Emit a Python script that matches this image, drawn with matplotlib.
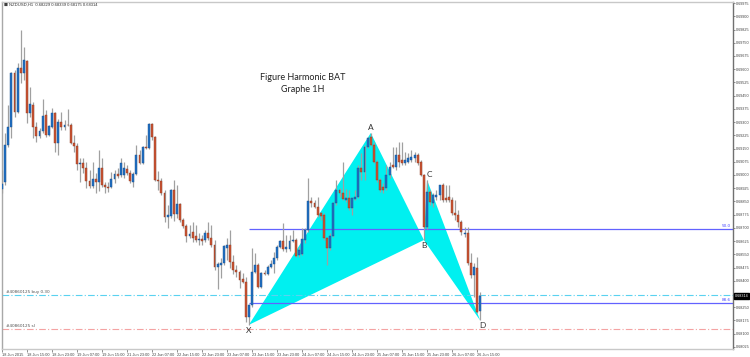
import numpy as np
import matplotlib
matplotlib.use("Agg")
import matplotlib.pyplot as plt
import matplotlib.transforms as mtransforms

# NZDUSD H1 candles, 18-26 Jun 2015
opens = [0.68921, 0.68960, 0.69170, 0.69272, 0.69578, 0.69357, 0.69607, 0.69578, 0.69646, 0.69351,
         0.69397, 0.69272, 0.69221, 0.69249, 0.69340, 0.69227, 0.69272, 0.69351, 0.69181, 0.69300,
         0.69272, 0.69283, 0.69283, 0.69181, 0.69164, 0.69062, 0.69068, 0.69040, 0.68966, 0.68938,
         0.68977, 0.68960, 0.69040, 0.68943, 0.68932, 0.68932, 0.68977, 0.69006, 0.69000, 0.69000,
         0.69034, 0.69011, 0.68960, 0.69006, 0.69113, 0.69068, 0.69159, 0.69153, 0.69289, 0.69215,
         0.68972, 0.68966, 0.68898, 0.68762, 0.68768, 0.68915, 0.68779, 0.68836, 0.68745, 0.68711,
         0.68654, 0.68677, 0.68654, 0.68631, 0.68637, 0.68631, 0.68671, 0.68643, 0.68603, 0.68478,
         0.68490, 0.68501, 0.68586, 0.68603, 0.68507, 0.68461, 0.68450, 0.68410, 0.68393, 0.68195,
         0.68263, 0.68450, 0.68490, 0.68365, 0.68444, 0.68439, 0.68478, 0.68495, 0.68529, 0.68592,
         0.68626, 0.68580, 0.68580, 0.68626, 0.68631, 0.68546, 0.68552, 0.68631, 0.68688, 0.68853,
         0.68841, 0.68819, 0.68785, 0.68773, 0.68643, 0.68586, 0.68654, 0.68841, 0.68915, 0.68898,
         0.68858, 0.68870, 0.68813, 0.68864, 0.68875, 0.69040, 0.69017, 0.69159, 0.69215, 0.69170,
         0.69074, 0.68972, 0.68932, 0.68926, 0.69000, 0.69057, 0.69045, 0.69113, 0.69085, 0.69068,
         0.69074, 0.69085, 0.69096, 0.69113, 0.69074, 0.69000, 0.68705, 0.68904, 0.68841, 0.68875,
         0.68887, 0.68943, 0.68870, 0.68875, 0.68858, 0.68785, 0.68773, 0.68734, 0.68665, 0.68671,
         0.68501, 0.68433, 0.68473, 0.68229]
highs = [0.69028, 0.69238, 0.69397, 0.69584, 0.69595, 0.69635, 0.69822, 0.69726, 0.69652, 0.69499,
         0.69414, 0.69300, 0.69266, 0.69431, 0.69368, 0.69283, 0.69380, 0.69357, 0.69317, 0.69357,
         0.69312, 0.69374, 0.69295, 0.69227, 0.69181, 0.69096, 0.69096, 0.69074, 0.69028, 0.69074,
         0.69011, 0.69142, 0.69096, 0.68960, 0.68960, 0.69017, 0.69028, 0.69040, 0.69096, 0.69074,
         0.69057, 0.69028, 0.69017, 0.69170, 0.69142, 0.69164, 0.69227, 0.69295, 0.69295, 0.69221,
         0.69023, 0.68983, 0.68915, 0.68830, 0.68921, 0.68972, 0.68943, 0.68841, 0.68756, 0.68722,
         0.68716, 0.68734, 0.68716, 0.68671, 0.68660, 0.68688, 0.68734, 0.68716, 0.68631, 0.68507,
         0.68529, 0.68603, 0.68643, 0.68688, 0.68546, 0.68490, 0.68461, 0.68444, 0.68422, 0.68269,
         0.68586, 0.68558, 0.68501, 0.68450, 0.68461, 0.68490, 0.68518, 0.68563, 0.68603, 0.68631,
         0.68728, 0.68660, 0.68660, 0.68688, 0.68643, 0.68592, 0.68699, 0.68699, 0.68983, 0.68875,
         0.68858, 0.68875, 0.68790, 0.68785, 0.68648, 0.68671, 0.68847, 0.68972, 0.68926, 0.69074,
         0.68921, 0.68915, 0.68875, 0.68915, 0.69057, 0.69125, 0.69170, 0.69215, 0.69238, 0.69187,
         0.69085, 0.68983, 0.68955, 0.69057, 0.69074, 0.69159, 0.69159, 0.69187, 0.69187, 0.69130,
         0.69125, 0.69142, 0.69130, 0.69125, 0.69085, 0.69006, 0.68972, 0.68915, 0.68898, 0.68915,
         0.68943, 0.68955, 0.68943, 0.68943, 0.68875, 0.68858, 0.68801, 0.68745, 0.68705, 0.68705,
         0.68558, 0.68501, 0.68535, 0.68339]
lows = [0.68898, 0.68943, 0.69159, 0.69210, 0.69329, 0.69351, 0.69521, 0.69539, 0.69295, 0.69329,
        0.69210, 0.69187, 0.69210, 0.69238, 0.69215, 0.69221, 0.69266, 0.69130, 0.69113, 0.69255,
        0.69255, 0.69278, 0.69176, 0.69130, 0.69028, 0.68960, 0.69011, 0.68926, 0.68926, 0.68926,
        0.68898, 0.68909, 0.68932, 0.68898, 0.68904, 0.68926, 0.68955, 0.68983, 0.68989, 0.68983,
        0.69000, 0.68955, 0.68932, 0.69000, 0.69062, 0.69062, 0.69147, 0.69147, 0.69198, 0.68966,
        0.68915, 0.68887, 0.68734, 0.68699, 0.68756, 0.68739, 0.68756, 0.68734, 0.68699, 0.68620,
        0.68643, 0.68620, 0.68620, 0.68603, 0.68603, 0.68620, 0.68631, 0.68592, 0.68461, 0.68354,
        0.68416, 0.68490, 0.68518, 0.68473, 0.68439, 0.68422, 0.68359, 0.68388, 0.68167, 0.68150,
        0.68252, 0.68444, 0.68359, 0.68359, 0.68433, 0.68433, 0.68473, 0.68444, 0.68518, 0.68586,
        0.68569, 0.68563, 0.68569, 0.68620, 0.68535, 0.68535, 0.68546, 0.68614, 0.68677, 0.68819,
        0.68813, 0.68762, 0.68745, 0.68631, 0.68490, 0.68575, 0.68648, 0.68830, 0.68875, 0.68858,
        0.68847, 0.68801, 0.68773, 0.68858, 0.68870, 0.68972, 0.68972, 0.69153, 0.69164, 0.69068,
        0.68960, 0.68904, 0.68898, 0.68915, 0.68983, 0.69040, 0.69028, 0.69045, 0.69057, 0.69057,
        0.69068, 0.69074, 0.69074, 0.69057, 0.68994, 0.68631, 0.68694, 0.68830, 0.68819, 0.68858,
        0.68858, 0.68847, 0.68847, 0.68847, 0.68773, 0.68745, 0.68705, 0.68660, 0.68648, 0.68490,
        0.68416, 0.68308, 0.68218, 0.68175]
closes = [0.68949, 0.69170, 0.69272, 0.69578, 0.69357, 0.69607, 0.69578, 0.69652, 0.69351, 0.69402,
          0.69272, 0.69221, 0.69249, 0.69334, 0.69227, 0.69278, 0.69351, 0.69181, 0.69300, 0.69272,
          0.69283, 0.69281, 0.69181, 0.69164, 0.69062, 0.69068, 0.69040, 0.68966, 0.68938, 0.68977,
          0.68960, 0.69040, 0.68943, 0.68932, 0.68926, 0.68977, 0.69006, 0.68994, 0.69068, 0.69040,
          0.69011, 0.68966, 0.69006, 0.69113, 0.69068, 0.69159, 0.69153, 0.69289, 0.69215, 0.68972,
          0.68966, 0.68898, 0.68762, 0.68773, 0.68915, 0.68779, 0.68836, 0.68745, 0.68711, 0.68654,
          0.68665, 0.68643, 0.68631, 0.68637, 0.68626, 0.68671, 0.68643, 0.68603, 0.68478, 0.68495,
          0.68501, 0.68597, 0.68603, 0.68507, 0.68461, 0.68450, 0.68405, 0.68393, 0.68195, 0.68263,
          0.68450, 0.68490, 0.68365, 0.68444, 0.68439, 0.68478, 0.68495, 0.68529, 0.68592, 0.68626,
          0.68580, 0.68592, 0.68626, 0.68631, 0.68541, 0.68575, 0.68637, 0.68688, 0.68853, 0.68841,
          0.68819, 0.68773, 0.68768, 0.68643, 0.68586, 0.68654, 0.68841, 0.68915, 0.68898, 0.68864,
          0.68870, 0.68813, 0.68870, 0.68875, 0.69040, 0.69017, 0.69159, 0.69210, 0.69170, 0.69074,
          0.68972, 0.68915, 0.68915, 0.69000, 0.69045, 0.69045, 0.69113, 0.69074, 0.69068, 0.69085,
          0.69096, 0.69102, 0.69113, 0.69068, 0.69000, 0.68705, 0.68904, 0.68847, 0.68887, 0.68887,
          0.68943, 0.68858, 0.68858, 0.68858, 0.68785, 0.68773, 0.68734, 0.68677, 0.68671, 0.68501,
          0.68433, 0.68478, 0.68223, 0.68314]

# x axis labels every 8 bars
tick_labels = ["18 Jun 2015", "18 Jun 15:00", "18 Jun 23:00", "19 Jun 07:00", "19 Jun 15:00",
               "21 Jun 23:00", "22 Jun 07:00", "22 Jun 15:00", "22 Jun 23:00", "23 Jun 07:00",
               "23 Jun 15:00", "23 Jun 23:00", "24 Jun 07:00", "24 Jun 15:00", "24 Jun 23:00",
               "25 Jun 07:00", "25 Jun 15:00", "25 Jun 23:00", "26 Jun 07:00", "26 Jun 15:00"]
price_ticks = [0.68025, 0.68100, 0.68175, 0.68250, 0.68325, 0.68400, 0.68475, 0.68550, 0.68625,
               0.68700, 0.68775, 0.68850, 0.68925, 0.69000, 0.69075, 0.69150, 0.69225, 0.69300,
               0.69375, 0.69450, 0.69525, 0.69600, 0.69675, 0.69750, 0.69825, 0.69900, 0.69975]

# harmonic BAT points (bar index, price)
pat_names = ["X", "A", "B", "C", "D"]
pat_bars = [79, 118, 135, 136, 153]
pat_prices = [0.68150, 0.69238, 0.68631, 0.68972, 0.68175]

fib_names = ["50.0", "88.6"]
fib_prices = [0.68694, 0.68274]
buy_price = 0.68321
sl_price = 0.68127
last_price = 0.68314

BLUE, RED, WICK = '#2170c4', '#cc5433', '#a0a0a0'

fig = plt.figure(figsize=(7.5, 3.57), dpi=100)
ax = fig.add_axes([2/750, 1 - 349/357, 731/750, 347/357])
ax.set_facecolor('white')

x = np.arange(len(opens))
o, h, l, c = map(np.array, (opens, highs, lows, closes))
up = c >= o

# pattern triangles XAB, BCD
ax.fill([pat_bars[0], pat_bars[1], pat_bars[2]], [pat_prices[0], pat_prices[1], pat_prices[2]],
        color='#00f0f0', lw=0, zorder=1)
ax.fill([pat_bars[2], pat_bars[3], pat_bars[4]], [pat_prices[2], pat_prices[3], pat_prices[4]],
        color='#00f0f0', lw=0, zorder=1)

# horizontal lines
ax.axhline(buy_price, color='#5ad2f0', lw=0.8, ls=(0, (6, 2, 1, 2)), zorder=2)
ax.axhline(sl_price, color='#f4a3a3', lw=0.8, ls=(0, (6, 2, 1, 2)), zorder=2)
for name, p in zip(fib_names, fib_prices):
    ax.hlines(p, pat_bars[0], 234, color='#6262ff', lw=0.9, zorder=2)
    ax.text(233.2, p + 0.00003, name, fontsize=3, color='#4848ff', ha='right', va='bottom')

ax.text(1.2, buy_price + 0.00003, "#40860125 buy 0.30", fontsize=3, color='#505050', va='bottom')
ax.text(1.2, sl_price + 0.00003, "#40860125 sl", fontsize=3, color='#505050', va='bottom')

# candles
ax.vlines(x, l, h, color=WICK, lw=0.9, zorder=3)
body = np.maximum(np.abs(c - o), 0.00002)
ax.bar(x[up], body[up], bottom=np.minimum(o, c)[up], width=0.62, color=BLUE,
       edgecolor='#174f8c', lw=0.3, zorder=4)
ax.bar(x[~up], body[~up], bottom=np.minimum(o, c)[~up], width=0.62, color=RED,
       edgecolor='#8c3a22', lw=0.3, zorder=4)

# pattern letters
offs = {"X": -0.00030, "A": 0.00030, "B": -0.00030, "C": 0.00030, "D": -0.00030}
for n, b, p in zip(pat_names, pat_bars, pat_prices):
    ax.text(b + (0.7 if n in "CD" else 0), p + offs[n], n, fontsize=6, color='#333333',
            ha='center', va='center', family='Lato', zorder=5)

ax.set_xlim(0.42, 233.9)
ax.set_ylim(0.68013, 0.69981)

# price box hides the 0.68325 label
ax.yaxis.tick_right()
ax.set_yticks(price_ticks)
ax.set_yticklabels(["" if abs(p - 0.68325) < 1e-6 else f"{p:.5f}" for p in price_ticks],
                   fontsize=2.7, color='#404040', family='Liberation Sans')
ax.set_xticks(np.arange(0, len(opens), 8))
ax.set_xticklabels(tick_labels, fontsize=2.8, color='#404040', family='Liberation Sans')
for lbl in ax.get_xticklabels():
    lbl.set_ha('left')
ax.tick_params(axis='x', length=2, width=0.5, color='#606060', pad=1)
ax.tick_params(axis='y', length=1.5, width=0.5, color='#606060', pad=0.5)

for side, col in [('left', '#a8a8a8'), ('top', '#c8c8c8'), ('right', '#707070'), ('bottom', '#c8c8c8')]:
    ax.spines[side].set_color(col)
    ax.spines[side].set_linewidth(1.0)

# current price box
trans = mtransforms.blended_transform_factory(ax.transAxes, ax.transData)
ax.text(1.002, last_price, f"{last_price:.5f}", transform=trans, fontsize=2.7, color='white',
        va='center', ha='left', family='Liberation Sans',
        bbox=dict(boxstyle='square,pad=0.25', fc='black', ec='black'), clip_on=False, zorder=6)

# header + title
fig.text(4/750, 1 - 5/357, "\u25a0", fontsize=3, color='#404040', va='center')
fig.text(9/750, 1 - 5/357, "NZDUSD,H1  0.68229 0.68339 0.68175 0.68314", fontsize=3,
         color='#303030', va='center', family='Liberation Sans')
fig.text(303/750, 1 - 78/357, "Figure Harmonic BAT", fontsize=6.5, ha='center', va='center',
         family='Lato', color='#222222')
fig.text(303/750, 1 - 89/357, "Graphe 1H", fontsize=6.5, ha='center', va='center',
         family='Lato', color='#222222')

plt.savefig("out.png", dpi=100, facecolor='white')
